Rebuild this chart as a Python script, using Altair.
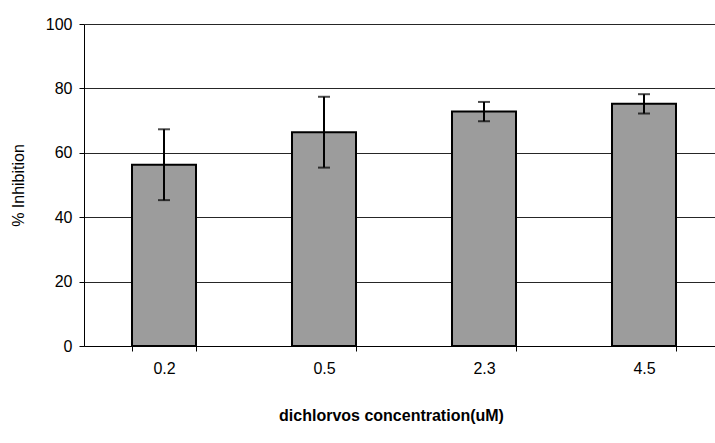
import altair as alt
import pandas as pd

conc = ["0.2", "0.5", "2.3", "4.5"]
inhibition = [56.3, 66.4, 72.8, 75.2]
err = [11.0, 11.0, 3.0, 3.0]

df = pd.DataFrame({
    "conc": conc,
    "inh": inhibition,
    "lo": [v - e for v, e in zip(inhibition, err)],
    "hi": [v + e for v, e in zip(inhibition, err)],
})

FONT = "Liberation Sans"

xscale = alt.Scale(domain=conc, range=[0, 640], paddingInner=0.6, paddingOuter=0.3)
yscale = alt.Scale(domain=[0, 100])

x = alt.X("conc:N", scale=xscale, sort=conc,
          axis=alt.Axis(title="dichlorvos concentration(uM)", labelAngle=0,
                        tickBand="extent", grid=False, domainColor="black",
                        tickColor="black", tickSize=5, labelPadding=9,
                        labelFontSize=16, labelFont=FONT, labelColor="black",
                        titleFont=FONT, titleFontSize=16, titleFontWeight="bold",
                        titleColor="black", titleX=307, titleY=69,
                        titleBaseline="middle", titleAnchor="start", titleAlign="center"))

y_axis = alt.Axis(title="% Inhibition", values=[0, 20, 40, 60, 80, 100],
                  grid=True, gridColor="black", gridWidth=1, gridOpacity=0.85,
                  domainColor="black", tickColor="black", tickSize=5,
                  labelFontSize=16, labelFont=FONT, labelColor="black", labelPadding=7,
                  titleFont=FONT, titleFontSize=16, titleFontWeight="normal",
                  titleColor="black", titleX=-66, titleY=161, titleAngle=-90,
                  titleAlign="center", titleBaseline="middle")

bars = alt.Chart(df).mark_bar(fill="#9c9c9c", stroke="black", strokeWidth=2).encode(
    x=x,
    y=alt.Y("inh:Q", scale=yscale, axis=y_axis),
)

rules = alt.Chart(df).mark_rule(color="black", strokeWidth=2).encode(
    x=alt.X("conc:N", scale=xscale, sort=conc),
    y=alt.Y("lo:Q", scale=yscale),
    y2="hi:Q",
)

caps_hi = alt.Chart(df).mark_tick(color="black", thickness=2, size=12, orient="horizontal").encode(
    x=alt.X("conc:N", scale=xscale, sort=conc),
    y=alt.Y("hi:Q", scale=yscale),
)
caps_lo = alt.Chart(df).mark_tick(color="black", thickness=2, size=12, orient="horizontal").encode(
    x=alt.X("conc:N", scale=xscale, sort=conc),
    y=alt.Y("lo:Q", scale=yscale),
)

chart = alt.layer(bars, rules, caps_hi, caps_lo).properties(
    width=631, height=322,
    autosize=alt.AutoSizeParams(type="none"),
    padding={"left": 84, "top": 24, "right": 0, "bottom": 97},
    background="white",
).configure_view(stroke=None)

chart.save("out.html", embed_options={"renderer": "svg", "actions": False})
